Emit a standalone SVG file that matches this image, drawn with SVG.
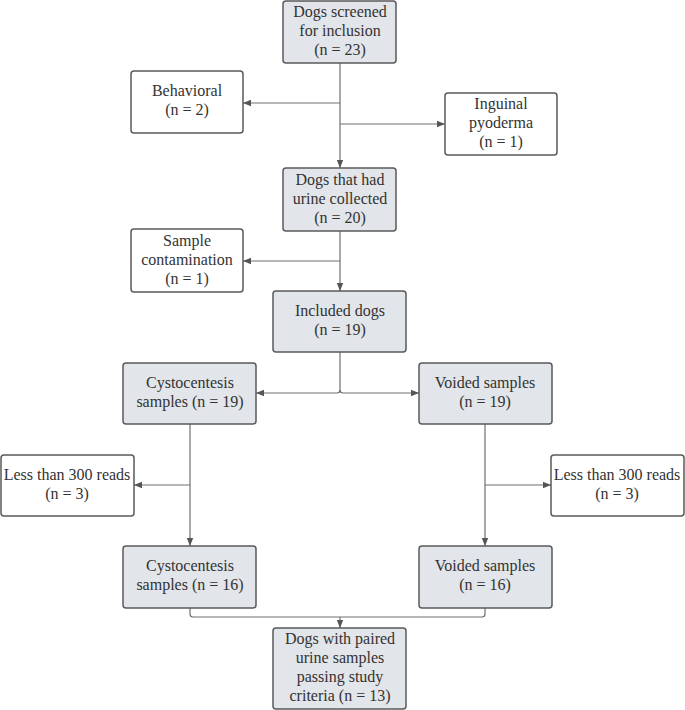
<svg xmlns="http://www.w3.org/2000/svg" width="685" height="710" viewBox="0 0 685 710">
<style>
.g rect{fill:#e2e5e9;stroke:#5a5a5a;stroke-width:1.5}
.w rect{fill:#ffffff;stroke:#5a5a5a;stroke-width:1.5}
text{font-family:'Liberation Serif','Times New Roman',serif;font-size:16px;fill:#333333;text-anchor:middle}
.c path{fill:none;stroke:#707070;stroke-width:1.2}
</style>
<defs>
<marker id="a" viewBox="0 0 10 10" refX="10" refY="5" markerWidth="8" markerHeight="8" markerUnits="userSpaceOnUse" orient="auto">
<path d="M0,1 L10,5 L0,9 Z" fill="#555555"/>
</marker>
</defs>
<rect width="685" height="710" fill="#ffffff"/>
<g class="c">
<path d="M340,63 V168" marker-end="url(#a)"/>
<path d="M340,103 H243" marker-end="url(#a)"/>
<path d="M340,124 H445" marker-end="url(#a)"/>
<path d="M340,231 V291" marker-end="url(#a)"/>
<path d="M340,261 H243" marker-end="url(#a)"/>
<path d="M340,352 V390 Q340,393 337,393 H256" marker-end="url(#a)"/>
<path d="M340,390 Q340,393 343,393 H419" marker-end="url(#a)"/>
<path d="M190,424 V546" marker-end="url(#a)"/>
<path d="M190,485 H134" marker-end="url(#a)"/>
<path d="M485,424 V546" marker-end="url(#a)"/>
<path d="M485,485 H551" marker-end="url(#a)"/>
<path d="M190,608 V614 Q190,617 193,617 H482 Q485,617 485,614 V608"/>
<path d="M340,617 V628" marker-end="url(#a)"/>
</g>
<g id="screened" class="g"><rect x="283" y="1" width="113" height="62" rx="3"/><text x="340" y="17">Dogs screened</text><text x="340" y="36">for inclusion</text><text x="340" y="55">(n = 23)</text></g>
<g id="behavioral" class="w"><rect x="131" y="71" width="112" height="62" rx="3"/><text x="187" y="96">Behavioral</text><text x="187" y="115">(n = 2)</text></g>
<g id="inguinal" class="w"><rect x="445" y="93" width="112" height="62" rx="3"/><text x="501" y="109">Inguinal</text><text x="501" y="128">pyoderma</text><text x="501" y="147">(n = 1)</text></g>
<g id="collected" class="g"><rect x="283" y="168" width="113" height="63" rx="3"/><text x="340" y="185">Dogs that had</text><text x="340" y="204">urine collected</text><text x="340" y="223">(n = 20)</text></g>
<g id="contamination" class="w"><rect x="131" y="229" width="112" height="63" rx="3"/><text x="187" y="246">Sample</text><text x="187" y="265">contamination</text><text x="187" y="284">(n = 1)</text></g>
<g id="included" class="g"><rect x="273" y="291" width="133" height="61" rx="3"/><text x="340" y="316">Included dogs</text><text x="340" y="335">(n = 19)</text></g>
<g id="cysto19" class="g"><rect x="123" y="363" width="133" height="61" rx="3"/><text x="190" y="388">Cystocentesis</text><text x="190" y="407">samples (n = 19)</text></g>
<g id="voided19" class="g"><rect x="419" y="363" width="133" height="61" rx="3"/><text x="485" y="388">Voided samples</text><text x="485" y="407">(n = 19)</text></g>
<g id="less-left" class="w"><rect x="1" y="455" width="133" height="61" rx="3"/><text x="67" y="480">Less than 300 reads</text><text x="67" y="499">(n = 3)</text></g>
<g id="less-right" class="w"><rect x="551" y="455" width="133" height="61" rx="3"/><text x="617" y="480">Less than 300 reads</text><text x="617" y="499">(n = 3)</text></g>
<g id="cysto16" class="g"><rect x="123" y="546" width="133" height="62" rx="3"/><text x="190" y="571">Cystocentesis</text><text x="190" y="590">samples (n = 16)</text></g>
<g id="voided16" class="g"><rect x="419" y="546" width="133" height="62" rx="3"/><text x="485" y="571">Voided samples</text><text x="485" y="590">(n = 16)</text></g>
<g id="paired" class="g"><rect x="273" y="628" width="133" height="81" rx="3"/><text x="340" y="644">Dogs with paired</text><text x="340" y="663">urine samples</text><text x="340" y="682">passing study</text><text x="340" y="701">criteria (n = 13)</text></g>
</svg>
